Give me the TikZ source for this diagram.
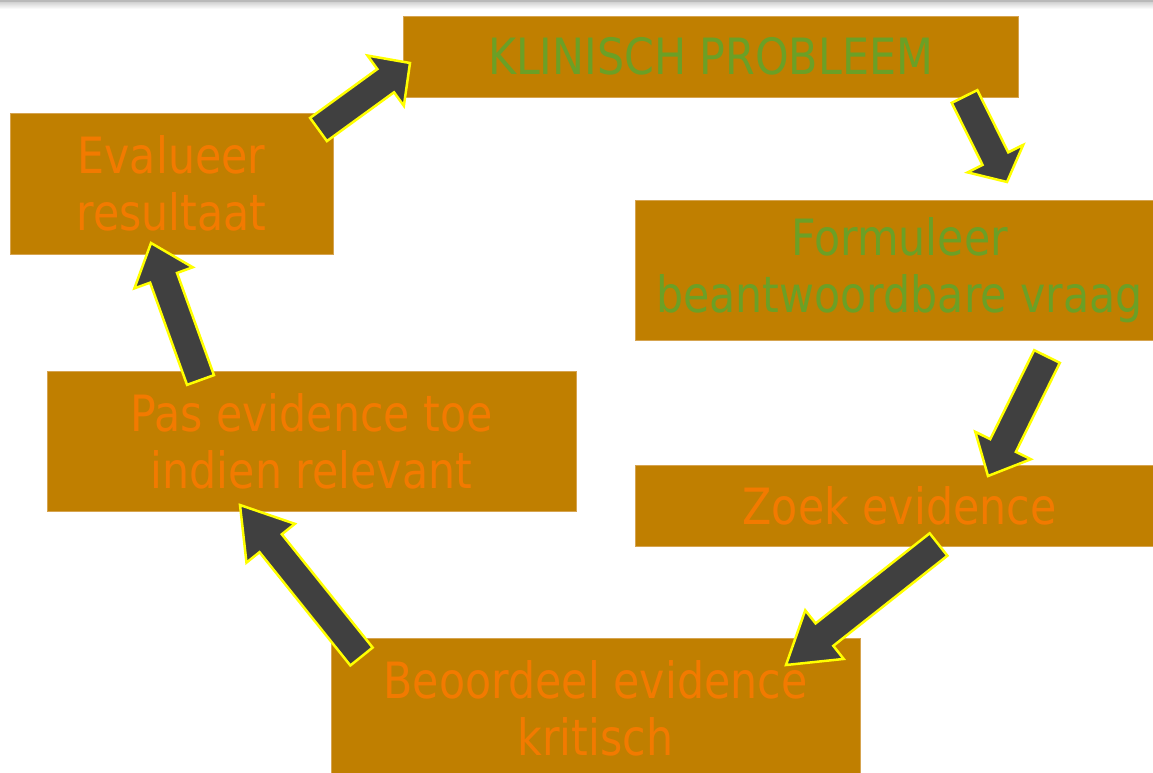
\documentclass[tikz,border=0pt]{standalone}
\usepackage{fontspec}
\setmainfont{DejaVu Sans}[FakeStretch=0.855]
\usetikzlibrary{calc}

\definecolor{boxfill}{HTML}{C07F00}
\definecolor{boxedge}{HTML}{D6A450}
\definecolor{txtorange}{HTML}{F27A00}
\definecolor{txtgreen}{HTML}{6BA026}
\definecolor{arrowfill}{HTML}{404040}
\definecolor{arrowedge}{HTML}{FFFF00}

\tikzset{
  stepbox/.style={rectangle, fill=boxfill, draw=boxedge, line width=0.8pt,
    inner sep=0pt, align=center, font=\fontsize{50}{57}\selectfont},
  blockarrow/.style={fill=arrowfill, draw=arrowedge, line width=2.5pt, line join=miter},
}

% block arrow from #1 (tail centre) to #2 (tip); #3 = head length in pt
\newcommand\blockarrow[3]{%
  \draw[blockarrow] let \p1=($(#2)-(#1)$), \n1={atan2(\y1,\x1)}, \n2={veclen(\x1,\y1)} in
    ($(#1)+(\n1-90:14.3pt)$) -- ++(\n1:{\n2*1pt-#3pt}) -- ++(\n1-90:16.7pt) -- (#2)
    -- ($(#2)+(\n1+180:#3pt)+(\n1+90:31pt)$) -- ++(\n1-90:16.7pt)
    -- ($(#1)+(\n1+90:14.3pt)$) -- cycle;}

\begin{document}
\begin{tikzpicture}[x=1pt, y=-1pt]
\useasboundingbox (0,0) rectangle (1153,773);

% thin grey rule along the top edge
\fill[gray!55] (0,0) rectangle (1153,3);
\shade[top color=gray!30, bottom color=white] (0,3) rectangle (1153,9);

% the six steps of the cycle
\node[stepbox, minimum width=615pt, minimum height=81pt, text=txtgreen]
  (klin) at (710.5,56.5) {KLINISCH PROBLEEM};
\node[stepbox, minimum width=529pt, minimum height=140pt, text=txtgreen]
  (form) at (899.5,270) {Formuleer\\beantwoordbare vraag};
\node[stepbox, minimum width=529pt, minimum height=81pt, text=txtorange]
  (zoek) at (899.5,505.5) {Zoek evidence};
\node[stepbox, minimum width=529pt, minimum height=140pt, text=txtorange]
  (beoord) at (595.5,708) {Beoordeel evidence\\kritisch};
\node[stepbox, minimum width=529pt, minimum height=140pt, text=txtorange]
  (pas) at (311.5,441) {Pas evidence toe\\indien relevant};
\node[stepbox, minimum width=323pt, minimum height=141pt, text=txtorange]
  (eval) at (171.5,183.5) {Evalueer\\resultaat};

% arrow end points
\coordinate (a1s) at (318.5,129.5);  \coordinate (a1t) at (410,63);
\coordinate (a2s) at (964.5,96.5);   \coordinate (a2t) at (1007,182);
\coordinate (a3s) at (1047,356.5);   \coordinate (a3t) at (988,476);
\coordinate (a4s) at (938.5,544.5);  \coordinate (a4t) at (786,665);
\coordinate (a5s) at (361.5,656.5);  \coordinate (a5t) at (240,505);
\coordinate (a6s) at (200.5,380);    \coordinate (a6t) at (151,243);

\blockarrow{a1s}{a1t}{30}
\blockarrow{a2s}{a2t}{26}
\blockarrow{a3s}{a3t}{34}
\blockarrow{a4s}{a4t}{49}
\blockarrow{a5s}{a5t}{49}
\blockarrow{a6s}{a6t}{37}
\end{tikzpicture}
\end{document}
